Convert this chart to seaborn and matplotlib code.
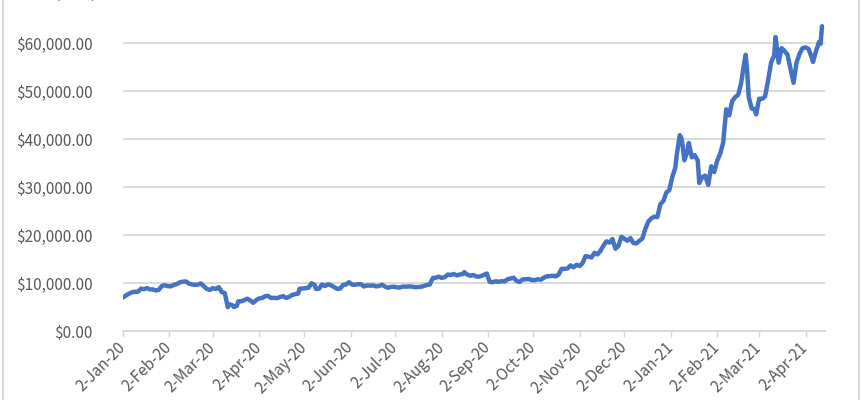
import pandas as pd
import numpy as np
import matplotlib
matplotlib.use('Agg')
import matplotlib.pyplot as plt
from matplotlib.ticker import FuncFormatter
from matplotlib.patches import Rectangle
import seaborn as sns

# Daily close price (USD), sampled every couple of days
dates = [
    '2020-01-02', '2020-01-04', '2020-01-06', '2020-01-08', '2020-01-10', '2020-01-12', '2020-01-14',
    '2020-01-16', '2020-01-18', '2020-01-20', '2020-01-22', '2020-01-24', '2020-01-26', '2020-01-28',
    '2020-01-30', '2020-02-01', '2020-02-03', '2020-02-05', '2020-02-07', '2020-02-09', '2020-02-11',
    '2020-02-13', '2020-02-15', '2020-02-17', '2020-02-19', '2020-02-21', '2020-02-23', '2020-02-25',
    '2020-02-27', '2020-02-29', '2020-03-02', '2020-03-04', '2020-03-06', '2020-03-08', '2020-03-10',
    '2020-03-12', '2020-03-13', '2020-03-15', '2020-03-16', '2020-03-18', '2020-03-19', '2020-03-21',
    '2020-03-23', '2020-03-25', '2020-03-27', '2020-03-29', '2020-03-31', '2020-04-02', '2020-04-04',
    '2020-04-06', '2020-04-08', '2020-04-10', '2020-04-12', '2020-04-14', '2020-04-16', '2020-04-18',
    '2020-04-20', '2020-04-22', '2020-04-24', '2020-04-26', '2020-04-28', '2020-04-29', '2020-05-01',
    '2020-05-03', '2020-05-05', '2020-05-07', '2020-05-09', '2020-05-10', '2020-05-12', '2020-05-14',
    '2020-05-16', '2020-05-18', '2020-05-20', '2020-05-22', '2020-05-24', '2020-05-26', '2020-05-28',
    '2020-05-30', '2020-06-01', '2020-06-03', '2020-06-05', '2020-06-07', '2020-06-09', '2020-06-11',
    '2020-06-13', '2020-06-15', '2020-06-17', '2020-06-19', '2020-06-21', '2020-06-23', '2020-06-25',
    '2020-06-27', '2020-06-29', '2020-07-01', '2020-07-03', '2020-07-05', '2020-07-07', '2020-07-09',
    '2020-07-11', '2020-07-13', '2020-07-15', '2020-07-17', '2020-07-19', '2020-07-21', '2020-07-23',
    '2020-07-25', '2020-07-27', '2020-07-29', '2020-07-31', '2020-08-02', '2020-08-04', '2020-08-06',
    '2020-08-08', '2020-08-10', '2020-08-12', '2020-08-14', '2020-08-16', '2020-08-17', '2020-08-19',
    '2020-08-21', '2020-08-23', '2020-08-25', '2020-08-27', '2020-08-29', '2020-09-01', '2020-09-03',
    '2020-09-05', '2020-09-07', '2020-09-09', '2020-09-11', '2020-09-13', '2020-09-15', '2020-09-17',
    '2020-09-19', '2020-09-21', '2020-09-23', '2020-09-25', '2020-09-27', '2020-09-29', '2020-10-01',
    '2020-10-03', '2020-10-05', '2020-10-07', '2020-10-09', '2020-10-11', '2020-10-13', '2020-10-15',
    '2020-10-17', '2020-10-19', '2020-10-21', '2020-10-23', '2020-10-25', '2020-10-27', '2020-10-29',
    '2020-10-31', '2020-11-02', '2020-11-04', '2020-11-06', '2020-11-08', '2020-11-10', '2020-11-12',
    '2020-11-14', '2020-11-16', '2020-11-18', '2020-11-20', '2020-11-22', '2020-11-24', '2020-11-26',
    '2020-11-28', '2020-11-30', '2020-12-02', '2020-12-04', '2020-12-06', '2020-12-08', '2020-12-10',
    '2020-12-12', '2020-12-14', '2020-12-16', '2020-12-18', '2020-12-20', '2020-12-22', '2020-12-24',
    '2020-12-26', '2020-12-28', '2020-12-30', '2021-01-01', '2021-01-03', '2021-01-05', '2021-01-06',
    '2021-01-08', '2021-01-09', '2021-01-10', '2021-01-11', '2021-01-13', '2021-01-14', '2021-01-16',
    '2021-01-18', '2021-01-20', '2021-01-21', '2021-01-23', '2021-01-25', '2021-01-27', '2021-01-29',
    '2021-01-31', '2021-02-02', '2021-02-04', '2021-02-06', '2021-02-08', '2021-02-10', '2021-02-12',
    '2021-02-14', '2021-02-16', '2021-02-18', '2021-02-20', '2021-02-21', '2021-02-22', '2021-02-23',
    '2021-02-25', '2021-02-27', '2021-02-28', '2021-03-02', '2021-03-04', '2021-03-06', '2021-03-08',
    '2021-03-10', '2021-03-12', '2021-03-13', '2021-03-15', '2021-03-17', '2021-03-19', '2021-03-21',
    '2021-03-23', '2021-03-25', '2021-03-27', '2021-03-29', '2021-03-31', '2021-04-02', '2021-04-04',
    '2021-04-06', '2021-04-07', '2021-04-09', '2021-04-11', '2021-04-12', '2021-04-13',
]
prices = [
    6985, 7411, 7769, 8079, 8166, 8192, 8827,
    8723, 8929, 8658, 8660, 8445, 8596, 9392,
    9508, 9351, 9293, 9617, 9795, 10135, 10277,
    10326, 9906, 9706, 9600, 9667, 9924, 9316,
    8785, 8544, 8915, 8755, 9122, 8108, 7909,
    4971, 5563, 5392, 5014, 5225, 6191, 6186,
    6416, 6734, 6370, 5881, 6438, 6793, 6858,
    7270, 7303, 6866, 6913, 6845, 7096, 7257,
    6880, 7120, 7505, 7679, 7788, 8801, 8864,
    8911, 9031, 9951, 9593, 8756, 8821, 9690,
    9378, 9729, 9522, 9170, 8790, 8835, 9575,
    9700, 10167, 9666, 9629, 9759, 9771, 9275,
    9476, 9450, 9480, 9305, 9358, 9629, 9264,
    9013, 9190, 9228, 9088, 9073, 9252, 9238,
    9277, 9243, 9132, 9154, 9209, 9375, 9609,
    9697, 11029, 11100, 11323, 11053, 11226, 11754,
    11675, 11878, 11584, 11771, 11866, 12254, 11748,
    11520, 11664, 11367, 11331, 11540, 11970, 10246,
    10170, 10369, 10242, 10392, 10329, 10788, 10950,
    11095, 10418, 10225, 10745, 10775, 10843, 10620,
    10575, 10789, 10670, 11064, 11385, 11430, 11505,
    11369, 11760, 12960, 12936, 13031, 13655, 13272,
    13781, 13550, 14134, 15593, 15480, 15315, 16292,
    15955, 16716, 17804, 18680, 18414, 19155, 17150,
    17730, 19625, 19204, 18803, 19359, 18325, 18249,
    18803, 19274, 21310, 22805, 23478, 23824, 23735,
    26437, 27084, 28840, 29374, 32127, 33992, 36825,
    40797, 40254, 38356, 35566, 37316, 39187, 36178,
    36630, 35510, 30825, 32067, 32366, 30433, 34316,
    33114, 35510, 36936, 39266, 46196, 44918, 47909,
    48717, 49199, 51679, 55888, 57539, 54207, 48824,
    46340, 46188, 45137, 48378, 48374, 48912, 52246,
    55963, 57332, 61243, 55907, 58913, 58346, 57523,
    54530, 51704, 55973, 57750, 58918, 59095, 58760,
    57059, 56048, 58323, 60204, 59793, 63503,
]
y_ticks = [0, 10000, 20000, 30000, 40000, 50000, 60000]
x_tick_dates = pd.date_range('2020-01-01', '2021-04-01', freq='MS') + pd.Timedelta(days=1)
axis_title = 'Price (USD)'

df = pd.DataFrame({'date': pd.to_datetime(dates), 'price': prices})

sns.set_style('white')
plt.rcParams['font.family'] = ['Noto Sans CJK SC', 'DejaVu Sans']

grey_text = '#595959'
grey_line = '#d9d9d9'

fig = plt.figure(figsize=(8.62, 4.0), dpi=100)
ax = fig.add_axes([123 / 862, 69 / 400, 702 / 862, 336 / 400])

sns.lineplot(data=df, x='date', y='price', color='#4472C4', linewidth=3.2, ax=ax)

ax.set_ylim(0, 70000)
ax.set_xlim(pd.Timestamp('2020-01-02'), pd.Timestamp('2021-04-15'))
ax.set_yticks(y_ticks)
ax.yaxis.set_major_formatter(FuncFormatter(lambda v, p: f'${v:,.2f}'))
ax.grid(axis='y', color=grey_line, linewidth=1.4)
ax.grid(axis='x', visible=False)
ax.set_axisbelow(True)

ax.set_xticks(x_tick_dates)
ax.set_xticklabels([f"{d.day}-{d.strftime('%b-%y')}" for d in x_tick_dates])
for lbl in ax.get_xticklabels():
    lbl.set_rotation(45)
    lbl.set_ha('right')
    lbl.set_va('center')
    lbl.set_rotation_mode('anchor')

ax.tick_params(axis='x', direction='out', length=4, width=1, color=grey_line,
               labelsize=11, labelcolor=grey_text, pad=6, bottom=True)
ax.tick_params(axis='y', length=0, labelsize=11, labelcolor=grey_text, pad=22)

ax.set_xlabel('')
ax.set_ylabel('')
for side in ['top', 'right', 'left']:
    ax.spines[side].set_visible(False)
ax.spines['bottom'].set_color(grey_line)
ax.spines['bottom'].set_linewidth(1.4)

# chart frame (only the sides fall inside the crop)
fig.patches.append(Rectangle((3 / 862, -0.1), 856 / 862, 1.2, transform=fig.transFigure,
                             fill=False, edgecolor=grey_line, linewidth=1.5))
fig.text(16 / 862, 1 - 2 / 400, axis_title, ha='left', va='bottom',
         fontsize=11, color=grey_text)

plt.savefig('out.png', dpi=100)
